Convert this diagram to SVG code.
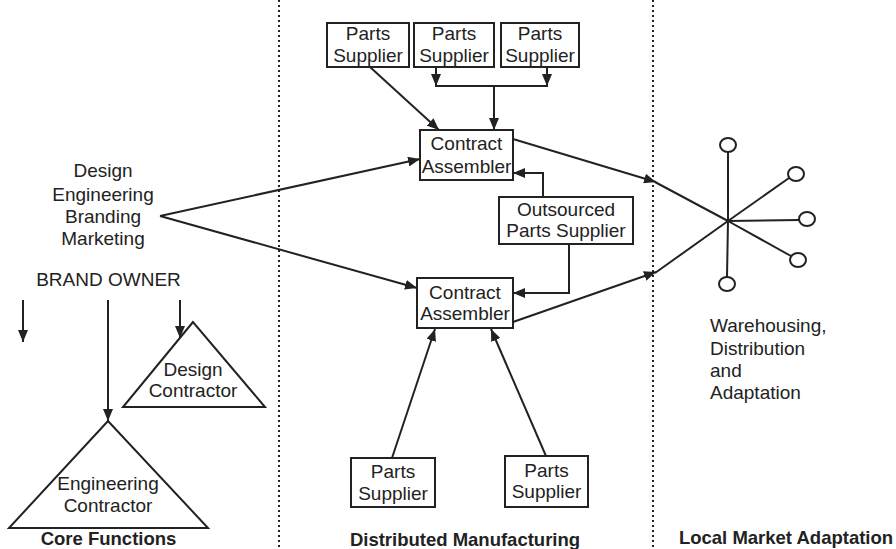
<svg xmlns="http://www.w3.org/2000/svg" width="896" height="549" viewBox="0 0 896 549">
<defs>
<style>
.t{font-family:"Liberation Sans",Arial,sans-serif;font-size:19px;fill:#222;}
.c{text-anchor:middle;}
.b{font-weight:bold;font-size:18.5px;}
.box{fill:#fff;stroke:#222;stroke-width:2;}
.ln{fill:none;stroke:#222;stroke-width:2;}
.ar{fill:none;stroke:#222;stroke-width:2;marker-end:url(#ah);}
.dot{stroke:#222;stroke-width:2;stroke-dasharray:2 3;}
.circ{fill:#fff;stroke:#222;stroke-width:2;}
</style>
<marker id="ah" markerUnits="userSpaceOnUse" markerWidth="12" markerHeight="10" viewBox="0 0 12 10" refX="12" refY="5" orient="auto">
<path d="M0,0 L12,5 L0,10 z" fill="#222"/>
</marker>
</defs>
<rect width="896" height="549" fill="#fff"/>
<g id="dividers">
<line class="dot" x1="279" y1="0" x2="279" y2="549"/>
<line class="dot" x1="653" y1="0" x2="653" y2="549"/>
</g>
<g id="connectors">
<line class="ar" x1="370" y1="67" x2="439" y2="130"/>
<polyline class="ln" points="436,67 436,86 547,86 547,67"/>
<line class="ar" x1="436" y1="76" x2="436" y2="86"/>
<line class="ar" x1="547" y1="76" x2="547" y2="86"/>
<line class="ar" x1="494" y1="86" x2="494" y2="130"/>
<line class="ar" x1="160" y1="216" x2="420" y2="159"/>
<line class="ar" x1="160" y1="216" x2="417" y2="288"/>
<polyline class="ar" points="543,197 543,173 513,173"/>
<polyline class="ar" points="569,244 569,293 513,293"/>
<line class="ar" x1="392" y1="458" x2="435" y2="329"/>
<line class="ar" x1="546" y1="456" x2="491" y2="329"/>
<line class="ar" x1="513" y1="139" x2="656" y2="182"/>
<line class="ar" x1="513" y1="322" x2="656" y2="272"/>
<line class="ln" x1="655" y1="182" x2="728" y2="221"/>
<line class="ln" x1="655" y1="273" x2="728" y2="221"/>
<line class="ar" x1="23" y1="300" x2="23" y2="342"/>
<line class="ar" x1="108" y1="300" x2="108" y2="421"/>
<line class="ar" x1="180" y1="300" x2="180" y2="338"/>
<line class="ln" x1="728" y1="221" x2="728" y2="152"/>
<line class="ln" x1="728" y1="221" x2="789" y2="178"/>
<line class="ln" x1="728" y1="221" x2="799" y2="220"/>
<line class="ln" x1="728" y1="221" x2="791" y2="256"/>
<line class="ln" x1="728" y1="221" x2="727" y2="277"/>
</g>
<g id="ps1"><rect class="box" x="327" y="23" width="82" height="44"/><text class="t c" x="368" y="40">Parts</text><text class="t c" x="368" y="62">Supplier</text></g>
<g id="ps2"><rect class="box" x="414" y="23" width="80" height="44"/><text class="t c" x="454" y="40">Parts</text><text class="t c" x="454" y="62">Supplier</text></g>
<g id="ps3"><rect class="box" x="501" y="23" width="78" height="44"/><text class="t c" x="540" y="40">Parts</text><text class="t c" x="540" y="62">Supplier</text></g>
<g id="ca1"><rect class="box" x="420" y="130" width="93" height="50"/><text class="t c" x="466.5" y="150">Contract</text><text class="t c" x="466.5" y="173">Assembler</text></g>
<g id="ops"><rect class="box" x="499" y="197" width="134" height="47"/><text class="t c" x="566" y="216">Outsourced</text><text class="t c" x="566" y="237">Parts Supplier</text></g>
<g id="ca2"><rect class="box" x="417" y="278" width="96" height="50"/><text class="t c" x="465" y="299">Contract</text><text class="t c" x="465" y="320">Assembler</text></g>
<g id="ps4"><rect class="box" x="351" y="458" width="84" height="49"/><text class="t c" x="393" y="478">Parts</text><text class="t c" x="393" y="500">Supplier</text></g>
<g id="ps5"><rect class="box" x="505" y="456" width="83" height="51"/><text class="t c" x="546.5" y="477">Parts</text><text class="t c" x="546.5" y="498">Supplier</text></g>
<g id="functions">
<text class="t c" x="103" y="177">Design</text>
<text class="t c" x="103" y="201">Engineering</text>
<text class="t c" x="103" y="223">Branding</text>
<text class="t c" x="103" y="245">Marketing</text>
</g>
<g id="brandowner"><text class="t c" x="108.5" y="286">BRAND OWNER</text></g>
<g id="design-contractor"><polygon class="box" points="193,322 123,407 265,407"/><text class="t c" x="193" y="376">Design</text><text class="t c" x="193" y="397">Contractor</text></g>
<g id="engineering-contractor"><polygon class="box" points="108,421 9,528 208,528"/><text class="t c" x="108" y="490">Engineering</text><text class="t c" x="108" y="512">Contractor</text></g>
<g id="hub">
<ellipse class="circ" cx="728" cy="145" rx="8" ry="7"/>
<ellipse class="circ" cx="796" cy="174" rx="8" ry="7"/>
<ellipse class="circ" cx="807" cy="219" rx="8" ry="7"/>
<ellipse class="circ" cx="798" cy="260" rx="8" ry="7"/>
<ellipse class="circ" cx="727" cy="284" rx="8" ry="7"/>
</g>
<g id="warehousing">
<text class="t" x="710" y="332">Warehousing,</text>
<text class="t" x="710" y="355">Distribution</text>
<text class="t" x="710" y="377">and</text>
<text class="t" x="710" y="399">Adaptation</text>
</g>
<g id="headings">
<text class="t c b" x="108.5" y="545">Core Functions</text>
<text class="t c b" x="465" y="546">Distributed Manufacturing</text>
<text class="t c b" x="786" y="544">Local Market Adaptation</text>
</g>
</svg>
